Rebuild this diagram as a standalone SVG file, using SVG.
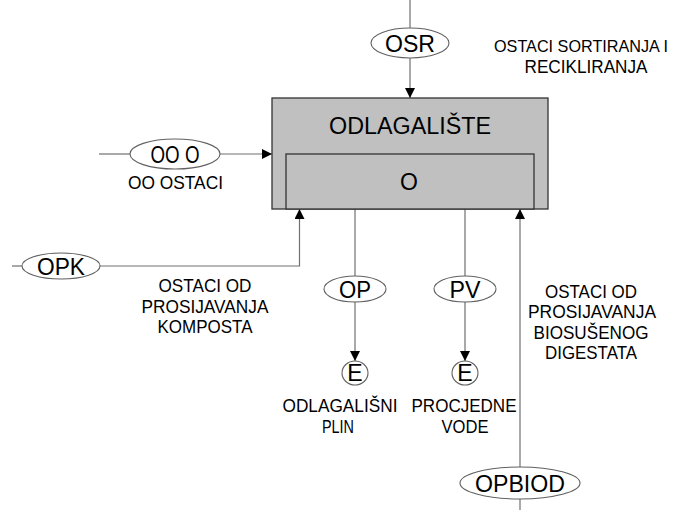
<svg xmlns="http://www.w3.org/2000/svg" width="683" height="510" viewBox="0 0 683 510">
<style>
.bg{fill:#ffffff}
.box{fill:#c0c0c0;stroke:#333333;stroke-width:1.3}
.ell{fill:#ffffff;stroke:#606060;stroke-width:1.1}
.ln{fill:none;stroke:#707070;stroke-width:1.2}
.big{font-family:"Liberation Sans",Arial,sans-serif;font-size:23px;fill:#000;text-anchor:middle}
.sm{font-family:"Liberation Sans",Arial,sans-serif;font-size:18px;fill:#000;text-anchor:middle}
.sm2{font-family:"Liberation Sans",Arial,sans-serif;font-size:16.5px;fill:#000;text-anchor:middle}
</style>
<defs>
<marker id="ah" markerWidth="10" markerHeight="10" refX="10" refY="5" orient="auto" markerUnits="userSpaceOnUse">
<path d="M0,0 L10,5 L0,10 Z" fill="#000"/>
</marker>
</defs>
<rect class="bg" x="0" y="0" width="683" height="510"/>

<g id="connectors">
<line class="ln" x1="410" y1="0" x2="410" y2="28"/>
<line class="ln" x1="410" y1="58" x2="410" y2="98" marker-end="url(#ah)"/>
<line class="ln" x1="99" y1="154" x2="130" y2="154"/>
<line class="ln" x1="220" y1="154" x2="272" y2="154" marker-end="url(#ah)"/>
<line class="ln" x1="12" y1="266" x2="22" y2="266"/>
<polyline class="ln" points="100,266 299.5,266 299.5,209" marker-end="url(#ah)"/>
<line class="ln" x1="355" y1="209" x2="355" y2="276"/>
<line class="ln" x1="355" y1="302" x2="355" y2="361" marker-end="url(#ah)"/>
<line class="ln" x1="465" y1="209" x2="465" y2="276"/>
<line class="ln" x1="465" y1="302" x2="465" y2="361" marker-end="url(#ah)"/>
<line class="ln" x1="520" y1="467" x2="520" y2="209" marker-end="url(#ah)"/>
<line class="ln" x1="520" y1="499" x2="520" y2="510"/>
</g>

<g id="odlagaliste">
<rect class="box" x="272" y="98" width="276" height="111"/>
<text class="big" x="410" y="134" font-size="24" textLength="162" lengthAdjust="spacingAndGlyphs">ODLAGALIŠTE</text>
</g>
<g id="o">
<rect class="box" x="286" y="154" width="248" height="55"/>
<text class="big" x="409" y="190" font-size="24">O</text>
</g>

<g id="osr">
<ellipse class="ell" cx="410" cy="43" rx="39" ry="15"/>
<text class="big" x="410" y="51.5" textLength="50" lengthAdjust="spacingAndGlyphs">OSR</text>
</g>
<g id="ostaci-sortiranja">
<text class="sm2" x="581" y="52" textLength="174" lengthAdjust="spacingAndGlyphs">OSTACI SORTIRANJA I</text>
<text class="sm" x="586" y="73" textLength="123" lengthAdjust="spacingAndGlyphs">RECIKLIRANJA</text>
</g>

<g id="ooo">
<ellipse class="ell" cx="175" cy="154" rx="45" ry="15"/>
<text class="big" x="175" y="162.5" textLength="49" lengthAdjust="spacingAndGlyphs">OO O</text>
<text class="sm" x="175.5" y="189" textLength="95" lengthAdjust="spacingAndGlyphs">OO OSTACI</text>
</g>

<g id="opk">
<ellipse class="ell" cx="61" cy="266" rx="39" ry="13"/>
<text class="big" x="61" y="274.5" textLength="48" lengthAdjust="spacingAndGlyphs">OPK</text>
</g>
<g id="ostaci-kompost">
<text class="sm" x="205" y="292" textLength="93" lengthAdjust="spacingAndGlyphs">OSTACI OD</text>
<text class="sm" x="205" y="312.5" textLength="127" lengthAdjust="spacingAndGlyphs">PROSIJAVANJA</text>
<text class="sm" x="205" y="333" textLength="95" lengthAdjust="spacingAndGlyphs">KOMPOSTA</text>
</g>

<g id="op">
<ellipse class="ell" cx="355" cy="289" rx="31" ry="13"/>
<text class="big" x="355" y="297.5" textLength="32" lengthAdjust="spacingAndGlyphs">OP</text>
</g>
<g id="e1">
<ellipse class="ell" cx="355" cy="373" rx="13" ry="12"/>
<text class="big" x="355" y="380.5" font-size="20">E</text>
<text class="sm" x="340" y="412" textLength="115" lengthAdjust="spacingAndGlyphs">ODLAGALIŠNI</text>
<text class="sm" x="338" y="433" textLength="32" lengthAdjust="spacingAndGlyphs">PLIN</text>
</g>

<g id="pv">
<ellipse class="ell" cx="465" cy="289" rx="31" ry="13"/>
<text class="big" x="465" y="297.5" textLength="31" lengthAdjust="spacingAndGlyphs">PV</text>
</g>
<g id="e2">
<ellipse class="ell" cx="465" cy="373" rx="13" ry="12"/>
<text class="big" x="465" y="380.5" font-size="20">E</text>
<text class="sm" x="464" y="412" textLength="105" lengthAdjust="spacingAndGlyphs">PROCJEDNE</text>
<text class="sm" x="465" y="433" textLength="47" lengthAdjust="spacingAndGlyphs">VODE</text>
</g>

<g id="ostaci-digestat">
<text class="sm" x="591" y="297.5" textLength="92" lengthAdjust="spacingAndGlyphs">OSTACI OD</text>
<text class="sm" x="592" y="318" textLength="128" lengthAdjust="spacingAndGlyphs">PROSIJAVANJA</text>
<text class="sm" x="591" y="338.5" textLength="115" lengthAdjust="spacingAndGlyphs">BIOSUŠENOG</text>
<text class="sm" x="591" y="359" textLength="92" lengthAdjust="spacingAndGlyphs">DIGESTATA</text>
</g>

<g id="opbiod">
<ellipse class="ell" cx="520" cy="483" rx="60" ry="16"/>
<text class="big" x="520" y="491.5" textLength="90" lengthAdjust="spacingAndGlyphs">OPBIOD</text>
</g>
</svg>
